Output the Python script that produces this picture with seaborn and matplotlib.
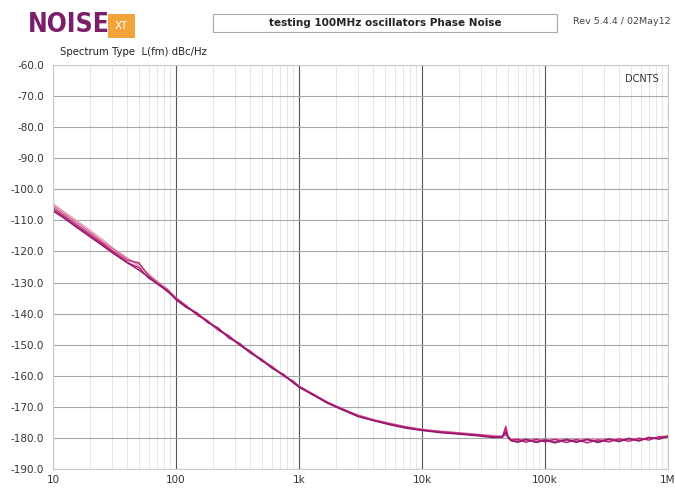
import matplotlib
matplotlib.use("Agg")
import matplotlib.pyplot as plt
from matplotlib.patches import Rectangle
from matplotlib.ticker import FixedLocator, FixedFormatter, LogLocator, NullFormatter
import numpy as np
import pandas as pd
import seaborn as sns

# Offset frequencies (Hz)
freqs = [10, 12, 15, 20, 25, 30, 40, 50, 60, 70, 85, 100, 120, 150, 180, 220, 270,
         330, 400, 500, 600, 750, 900, 1000, 1300, 1700, 2200, 3000, 4000, 5500,
         7500, 10000, 14000, 20000, 28000, 38000, 45000, 48000, 50000, 53000,
         60000, 70000, 85000, 100000, 120000, 150000, 180000, 220000, 270000,
         330000, 400000, 480000, 580000, 700000, 850000, 1000000]

# Measured L(fm) in dBc/Hz for each oscillator
osc_a = [-107.0, -109.0, -111.8, -115.3, -118.0, -120.3, -123.6, -126.0, -128.3, -130.4,
         -132.6, -135.5, -137.9, -140.0, -142.8, -144.6, -147.9, -149.6, -152.6, -155.0,
         -157.5, -159.6, -162.3, -163.7, -166.2, -168.8, -170.8, -173.1, -174.4, -175.8,
         -176.9, -177.6, -178.3, -178.8, -179.3, -179.9, -179.8, -178.2, -179.9, -180.9,
         -181.4, -180.5, -181.5, -180.7, -181.6, -180.6, -181.4, -180.5, -181.5, -180.4,
         -181.2, -180.2, -181.0, -179.9, -180.4, -179.5]
osc_b = [-106.5, -108.6, -111.4, -114.9, -117.6, -119.9, -123.5, -125.2, -128.6, -130.2,
         -132.9, -135.1, -137.4, -140.6, -142.3, -145.3, -147.2, -150.2, -152.0, -155.3,
         -156.9, -160.1, -161.8, -163.6, -165.9, -168.6, -170.5, -172.9, -174.3, -175.6,
         -176.7, -177.5, -178.1, -178.6, -179.1, -179.6, -179.7, -176.3, -179.6, -180.7,
         -180.4, -181.4, -180.4, -181.3, -180.4, -181.5, -180.5, -181.6, -180.6, -181.3,
         -180.3, -181.1, -180.1, -180.7, -179.6, -179.7]
osc_c = [-105.2, -107.5, -110.2, -113.8, -116.7, -118.9, -122.4, -124.0, -127.6, -129.6,
         -132.2, -134.8, -137.6, -139.9, -142.6, -144.8, -147.6, -149.9, -152.4, -154.7,
         -157.3, -159.7, -162.0, -163.2, -166.1, -168.4, -170.7, -172.6, -174.1, -175.3,
         -176.5, -177.2, -177.9, -178.4, -178.9, -179.4, -179.5, -178.8, -179.5, -180.5,
         -180.9, -180.5, -181.0, -180.6, -181.1, -180.5, -181.0, -180.5, -181.0, -180.4,
         -180.8, -180.2, -180.6, -180.0, -179.9, -179.4]
osc_d = [-104.6, -106.9, -109.6, -113.2, -116.0, -118.6, -122.0, -124.8, -127.2, -129.8,
         -132.0, -135.0, -137.2, -140.3, -142.1, -145.0, -147.1, -150.0, -152.1, -155.1,
         -157.0, -160.0, -161.7, -163.3, -165.8, -168.5, -170.4, -172.7, -174.0, -175.4,
         -176.4, -177.3, -177.8, -178.3, -178.8, -179.2, -179.4, -179.3, -179.4, -180.3,
         -180.5, -180.9, -180.4, -180.8, -180.3, -180.9, -180.4, -180.9, -180.3, -180.8,
         -180.2, -180.6, -180.1, -180.3, -179.6, -179.3]
osc_e = [-105.9, -108.1, -110.9, -114.4, -117.2, -119.6, -122.9, -123.6, -127.9, -130.1,
         -132.4, -135.4, -137.7, -140.1, -142.5, -145.1, -147.5, -150.1, -152.5, -154.8,
         -157.4, -159.9, -162.2, -163.5, -166.0, -168.7, -170.6, -172.8, -174.3, -175.5,
         -176.6, -177.4, -178.0, -178.5, -179.0, -179.6, -179.7, -177.4, -179.7, -180.8,
         -181.2, -180.4, -181.3, -180.5, -181.4, -180.4, -181.3, -180.4, -181.3, -180.3,
         -181.1, -180.1, -180.9, -179.8, -180.2, -179.4]

trace_names = ["A", "B", "C", "D", "E"]
trace_colors = ["#E6A3B8", "#D56C9A", "#B8407A", "#C2187E", "#8E1A6B"]

x_ticks = [10, 100, 1000, 10000, 100000, 1000000]
x_labels = ["10", "100", "1k", "10k", "100k", "1M"]
y_ticks = list(range(-190, -59, 10))
y_labels = [f"{v:.1f}" for v in y_ticks]

rows = []
for name, vals in zip(trace_names, [osc_d, osc_c, osc_e, osc_b, osc_a]):
    for f, v in zip(freqs, vals):
        rows.append({"freq": f, "level": v, "osc": name})
df = pd.DataFrame(rows)

sns.set_style("white")
plt.rcParams["font.family"] = ["DejaVu Sans"]

fig = plt.figure(figsize=(6.75, 4.9), dpi=100)
ax = fig.add_axes([53 / 675, 1 - 469 / 490, 615 / 675, 404 / 490])

sns.lineplot(data=df, x="freq", y="level", hue="osc", palette=trace_colors,
             hue_order=trace_names, linewidth=1.0, legend=False, ax=ax,
             estimator=None, sort=False)

ax.set_xscale("log")
ax.set_xlim(10, 1e6)
ax.set_ylim(-190, -60)

ax.xaxis.set_major_locator(FixedLocator(x_ticks))
ax.xaxis.set_major_formatter(FixedFormatter(x_labels))
ax.xaxis.set_minor_locator(LogLocator(base=10, subs=np.arange(2, 10)))
ax.xaxis.set_minor_formatter(NullFormatter())
ax.yaxis.set_major_locator(FixedLocator(y_ticks))
ax.yaxis.set_major_formatter(FixedFormatter(y_labels))

ax.grid(which="major", axis="x", color="#555555", linewidth=0.8)
ax.grid(which="minor", axis="x", color="#e2e2e2", linewidth=0.6)
ax.grid(which="major", axis="y", color="#a8a8a8", linewidth=0.8)
ax.set_axisbelow(True)

ax.tick_params(axis="both", which="major", labelsize=7.5, labelcolor="#333333",
               color="#bbbbbb", length=3, width=0.8)
ax.tick_params(axis="x", which="minor", length=0)
ax.tick_params(axis="x", which="major", length=0, pad=4)
for side, sp in ax.spines.items():
    sp.set_color("#cccccc")
    sp.set_linewidth(0.8)
ax.set_xlabel("")
ax.set_ylabel("")

# Header: logo, title box, revision
fig.text(28 / 675, 1 - 25 / 490, "NOISE", fontsize=19, fontweight="bold",
         fontstretch="condensed", color="#7B1F6A", va="center", ha="left",
         family=["DejaVu Sans"])
fig.patches.append(Rectangle((108 / 675, 1 - 38 / 490), 27 / 675, 24 / 490,
                             transform=fig.transFigure, facecolor="#F2A33A",
                             edgecolor="none"))
fig.text(121.5 / 675, 1 - 26 / 490, "XT", fontsize=7.5, color="white",
         ha="center", va="center")
fig.patches.append(Rectangle((213 / 675, 1 - 32 / 490), 344 / 675, 18 / 490,
                             transform=fig.transFigure, facecolor="white",
                             edgecolor="#aaaaaa", linewidth=0.8))
fig.text(385 / 675, 1 - 23.5 / 490, "testing 100MHz oscillators Phase Noise",
         fontsize=7.5, fontweight="bold", color="#222222", ha="center", va="center")
fig.text(573 / 675, 1 - 21 / 490, "Rev 5.4.4 / 02May12", fontsize=6.8,
         color="#444444", ha="left", va="center")
fig.text(60 / 675, 1 - 52 / 490, "Spectrum Type  L(fm) dBc/Hz", fontsize=7.3,
         color="#222222", ha="left", va="center")
ax.text(0.985, 0.965, "DCNTS", transform=ax.transAxes, fontsize=7,
        color="#333333", ha="right", va="center")

fig.savefig("out.png", dpi=100, facecolor="white")
